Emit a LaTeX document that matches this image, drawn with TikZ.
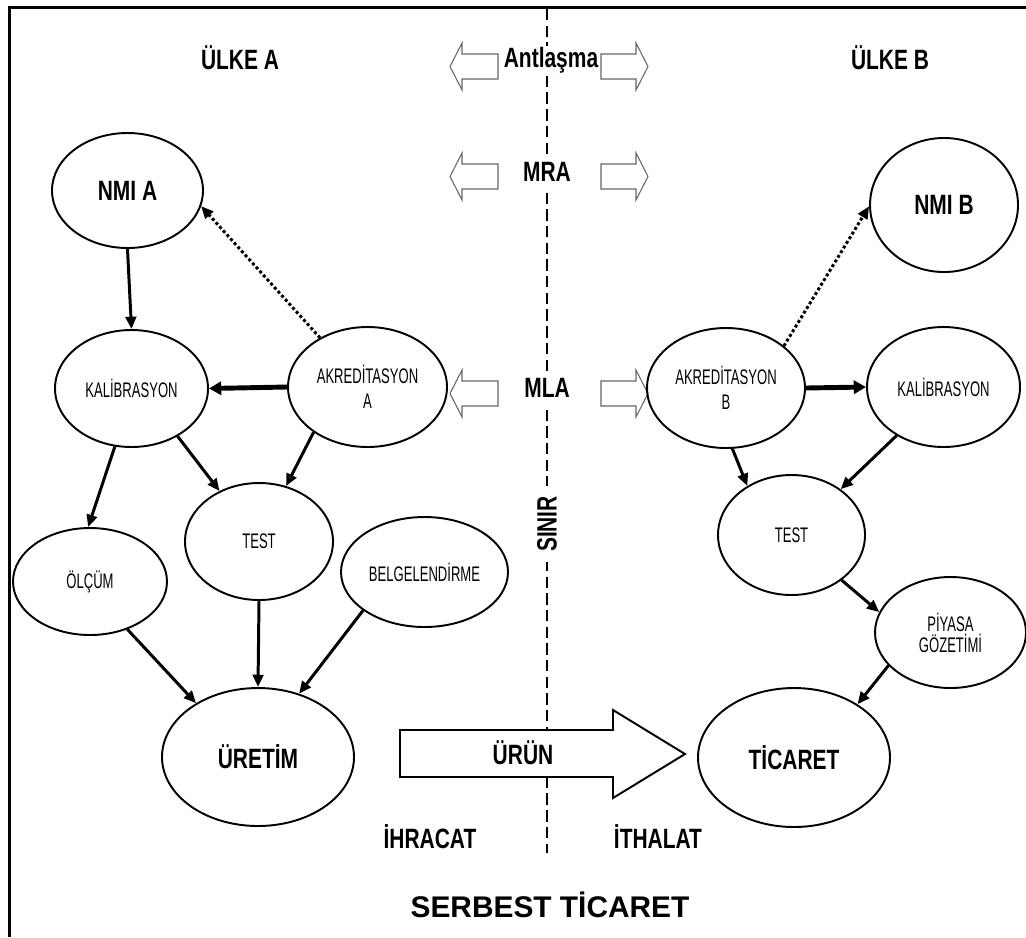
\documentclass[tikz,border=0pt]{standalone}
\usepackage{fontspec}
\setmainfont{Liberation Sans}[FakeStretch=0.75]
\newfontfamily\smallf{Liberation Sans}[FakeStretch=0.62]
\newfontfamily\widef{Liberation Sans}
\usetikzlibrary{shapes.geometric,arrows.meta}
\newcommand\mybig{\fontsize{15.9pt}{19pt}\selectfont\bfseries}
\newcommand\mysmall{\smallf\fontsize{12pt}{14.2pt}\selectfont}
\tikzset{
  ell/.style 2 args={draw, ellipse, line width=1.1pt, inner sep=0pt, align=center,
    minimum width=#1*0.02cm, minimum height=#2*0.02cm},
  bigell/.style={font=\mybig},
  smallell/.style={font=\mysmall},
  lbl/.style={font=\mybig, inner sep=1pt},
  arr/.style={line width=1.7pt, -{Triangle[length=7pt,width=6pt]}},
  thickarr/.style={line width=2.8pt, -{Triangle[length=7pt,width=7.5pt]}},
  dotarr/.style={line width=1.7pt, dash pattern=on 1.7pt off 1.4pt, -{Triangle[length=7pt,width=6pt]}},
  blockarr/.style={draw=black!60, line width=0.6pt, fill=white},
  border/.style={dash pattern=on 6.5pt off 3pt, line width=1.1pt}
}
\begin{document}
\begin{tikzpicture}[x=0.02cm,y=-0.02cm]
\useasboundingbox (0,0) rectangle (1026,937);
\fill[white] (0,0) rectangle (1026,937);
% frame
\draw[line width=1.7pt] (9.5,937) -- (9.5,7.5) -- (1026,7.5);
% border line
\coordinate (dtop) at (547,9);
\coordinate (dbot) at (547,853);
\draw[border] (dtop) -- (dbot);

% block arrows
\foreach \c in {66.5,176.5,393.5}{
  \draw[blockarr] (450,\c) -- (462,\c-23.5) -- (462,\c-12.5) -- (498,\c-12.5) -- (498,\c+12.5) -- (462,\c+12.5) -- (462,\c+23.5) -- cycle;
  \draw[blockarr] (648,\c) -- (636,\c-23.5) -- (636,\c-12.5) -- (601,\c-12.5) -- (601,\c+12.5) -- (636,\c+12.5) -- (636,\c+23.5) -- cycle;
}
\draw[line width=1.1pt, fill=white] (400,730) -- (613,730) -- (613,710) -- (685,754) -- (613,798) -- (613,777) -- (400,777) -- cycle;

% labels
\node[lbl] (ulkeA) at (240,58) {ÜLKE A};
\node[lbl] (ulkeB) at (890,58) {ÜLKE B};
\node[lbl, fill=white, inner sep=0.5pt] (antl) at (551,60) {Antlaşma};
\node[lbl, fill=white, inner sep=4pt] (mra) at (547,172) {MRA};
\node[lbl, fill=white, inner sep=4pt] (mla) at (547,388) {MLA};
\node[lbl, fill=white, inner sep=6pt, rotate=90] (sinir) at (547,524) {SINIR};
\node[lbl] (urun) at (523,753) {ÜRÜN};
\node[lbl] (ihr) at (430,837) {İHRACAT};
\node[lbl] (ith) at (658,837) {İTHALAT};
\node[font=\widef\fontsize{17pt}{20pt}\selectfont\bfseries] (serb) at (550,905) {SERBEST TİCARET};

% ellipses
\node[ell={151}{115}, bigell] (nmiA) at (127.5,190.5) {NMI A};
\node[ell={153}{117}, smallell] (kalA) at (131.5,388.5) {KALİBRASYON};
\node[ell={159}{120}, smallell] (akrA) at (367.5,387) {AKREDİTASYON\\A};
\node[ell={148}{117}, smallell] (testA) at (259,541.5) {TEST};
\node[ell={154}{107}, smallell] (olcum) at (90,581.5) {ÖLÇÜM};
\node[ell={167}{110}, smallell] (belg) at (424.5,572) {BELGELENDİRME};
\node[ell={192}{138}, bigell] (uretim) at (258,757) {ÜRETİM};
\node[ell={148}{134}, bigell] (nmiB) at (944,205) {NMI B};
\node[ell={158}{120}, smallell] (akrB) at (726,388) {AKREDİTASYON\\B};
\node[ell={153}{120}, smallell] (kalB) at (943.5,387) {KALİBRASYON};
\node[ell={147}{120}, smallell] (testB) at (791.5,535) {TEST};
\node[ell={151}{111}, font=\smallf\fontsize{12pt}{11.9pt}\selectfont] (piy) at (950.5,632.5) {PİYASA\\GÖZETİMİ};
\node[ell={192}{139}, bigell] (tic) at (794,757.5) {TİCARET};

% connectors left
\draw[arr] (nmiA.south) -- (kalA.north);
\draw[dotarr] (akrA.134) -- (nmiA.-12);
\draw[thickarr] (akrA.west) -- (kalA.east);
\draw[arr] (kalA.254) -- (olcum.92);
\draw[arr] (kalA.314) -- (testA.128);
\draw[arr] (akrA.220) -- (testA.64);
\draw[arr] (olcum.308) -- (uretim.139);
\draw[arr] (testA.south) -- (uretim.north);
\draw[arr] (belg.212) -- (uretim.57);
% connectors right
\draw[dotarr] (akrB.36) -- (nmiB.181);
\draw[thickarr] (akrB.east) -- (kalB.west);
\draw[arr] (kalB.226) -- (testB.43);
\draw[arr] (akrB.276) -- (testB.132);
\draw[arr] (testB.318) -- (piy.164);
\draw[arr] (piy.208) -- (tic.40);
\end{tikzpicture}
\end{document}
